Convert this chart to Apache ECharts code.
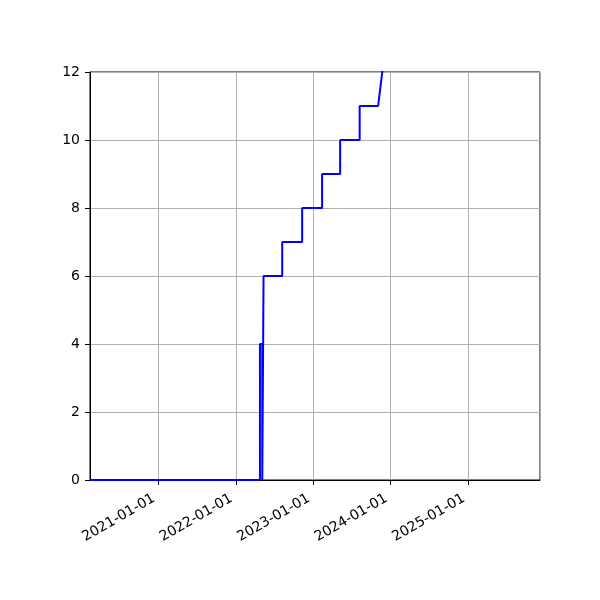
<!DOCTYPE html>
<html>
<head>
<meta charset="utf-8">
<script src="https://cdn.jsdelivr.net/npm/echarts@6/dist/echarts.min.js"></script>
<style>html,body{margin:0;padding:0;background:#fff}#c{width:600px;height:600px}</style>
</head>
<body>
<div id="c"></div>
<script>
// Dates and cumulative counts (vertical jumps use repeated dates)
const dates = [
  '2020-02-14', '2022-04-25', '2022-04-25', '2022-05-06', '2022-05-06', '2022-05-12', '2022-05-12',
  '2022-08-08', '2022-08-08', '2022-11-10', '2022-11-10', '2023-02-12', '2023-02-12',
  '2023-05-08', '2023-05-08', '2023-08-08', '2023-08-08', '2023-11-03', '2023-12-12'
];
const counts = [
  0, 0, 4, 4, 0, 0, 6,
  6, 7, 7, 8, 8, 9,
  9, 10, 10, 11, 11, 13
];
const xMin = '2020-02-14';
const xMax = '2025-12-05';
const yTicks = [0, 2, 4, 6, 8, 10, 12];

const data = dates.map((d, i) => [d, counts[i]]);
const chart = echarts.init(document.getElementById('c'), null, {renderer: 'canvas'});
const font = 'DejaVu Sans';
const YEAR = 365 * 24 * 3600 * 1000;
chart.setOption({
  animation: false,
  grid: {left: 90, right: 60, top: 72, bottom: 120, show: true, borderColor: '#000', borderWidth: 1, backgroundColor: 'transparent'},
  xAxis: {
    type: 'time',
    min: xMin, max: xMax,
    minInterval: YEAR, maxInterval: YEAR * 1.01,
    axisLine: {show: true, lineStyle: {color: '#000', width: 1}},
    axisTick: {show: true, length: 5, lineStyle: {color: '#000'}},
    splitLine: {show: true, lineStyle: {color: '#b0b0b0', width: 1}},
    axisLabel: {
      rotate: 30, color: '#000', fontFamily: font, fontSize: 14, margin: 15,
      padding: [0, 5, 0, 0],
      formatter: (v) => echarts.time.format(v, '{yyyy}-{MM}-{dd}', false),
      hideOverlap: false
    }
  },
  yAxis: {
    type: 'value', min: yTicks[0], max: yTicks[yTicks.length - 1], interval: 2,
    axisLine: {show: true, lineStyle: {color: '#000', width: 1}},
    axisTick: {show: true, length: 5, lineStyle: {color: '#000'}},
    splitLine: {show: true, lineStyle: {color: '#b0b0b0', width: 1}},
    axisLabel: {color: '#000', fontFamily: font, fontSize: 14, margin: 10}
  },
  series: [{
    type: 'line', data: data, showSymbol: false, clip: true,
    lineStyle: {color: '#0000ff', width: 2}
  }]
});
</script>
</body>
</html>
